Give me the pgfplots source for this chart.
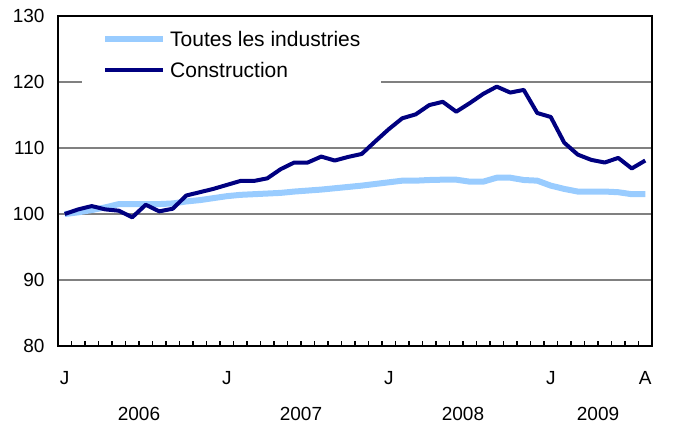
\documentclass[border=0pt]{standalone}
\usepackage{pgfplots}
\pgfplotsset{compat=1.18}
\usepackage{fontspec}
\setmainfont{Liberation Sans}
\definecolor{navyline}{RGB}{0,0,128}
\definecolor{lightline}{RGB}{153,204,255}
\definecolor{gridgray}{RGB}{128,128,128}
\begin{document}
\begin{tikzpicture}[font=\fontsize{19}{22}\selectfont]
\begin{axis}[
  name=ax,
  scale only axis,
  clip mode=individual,
  width=594pt, height=330pt,
  xmin=-0.5, xmax=43.5, ymin=80, ymax=130,
  ytick={80,90,100,110,120,130},
  xtick={0,12,24,36,43},
  xticklabels={J,J,J,J,A},
  minor xtick={0.5,1.5,...,42.5},
  major tick length=0pt,
  minor tick length=5pt,
  tick align=inside,
  xtick pos=bottom, ytick pos=left,
  minor tick style={line width=1.5pt, black},
  ymajorgrids,
  major grid style={line width=2pt, gridgray},
  axis line style={line width=2.5pt, black},
  /pgf/number format/assume math mode=true,
  yticklabel style={anchor=east, xshift=-10pt},
  xticklabel style={anchor=center, yshift=-32pt},
  legend style={at={(0.0404,0.982)}, anchor=north west, draw=none, fill=white,
    inner xsep=20pt, inner ysep=8pt, row sep=12pt,
    font=\fontsize{21}{24}\selectfont,
    nodes={inner sep=1pt}},
  legend cell align=left,
  legend image code/.code={\draw[#1] (0pt,0pt) -- (58pt,0pt);},
  every axis legend/.append style={/tikz/every odd column/.append style={column sep=3pt}},
]
\addplot[lightline, line width=6pt, line join=round] coordinates {
(0,100.0) (1,100.25) (2,100.6) (3,101.0) (4,101.5) (5,101.5) (6,101.5) (7,101.5)
(8,101.6) (9,101.9) (10,102.1) (11,102.4) (12,102.7) (13,102.9) (14,103.0) (15,103.1)
(16,103.2) (17,103.4) (18,103.55) (19,103.7) (20,103.9) (21,104.1) (22,104.3) (23,104.55)
(24,104.8) (25,105.05) (26,105.05) (27,105.15) (28,105.2) (29,105.2) (30,104.9) (31,104.9)
(32,105.5) (33,105.5) (34,105.15) (35,105.05) (36,104.3) (37,103.8) (38,103.4) (39,103.4)
(40,103.4) (41,103.3) (42,103.0) (43,103.0)
};
\addlegendentry{Toutes les industries}
\addplot[navyline, line width=4pt, line join=round] coordinates {
(0,100.0) (1,100.7) (2,101.2) (3,100.7) (4,100.5) (5,99.5) (6,101.4) (7,100.4)
(8,100.8) (9,102.8) (10,103.3) (11,103.8) (12,104.4) (13,105.0) (14,105.0) (15,105.4)
(16,106.8) (17,107.8) (18,107.8) (19,108.7) (20,108.1) (21,108.65) (22,109.1) (23,111.0)
(24,112.85) (25,114.5) (26,115.1) (27,116.5) (28,117.0) (29,115.5) (30,116.8) (31,118.2)
(32,119.3) (33,118.4) (34,118.8) (35,115.3) (36,114.7) (37,110.8) (38,109.0) (39,108.2)
(40,107.8) (41,108.5) (42,106.9) (43,108.1)
};
\addlegendentry{Construction}
\node[anchor=center, yshift=-68pt] at (axis cs:5.5,80) {2006};
\node[anchor=center, yshift=-68pt] at (axis cs:17.5,80) {2007};
\node[anchor=center, yshift=-68pt] at (axis cs:29.5,80) {2008};
\node[anchor=center, yshift=-68pt] at (axis cs:39.5,80) {2009};
\end{axis}
\path (ax.south west) ++(-58pt,-89pt) rectangle ++(676pt,435pt);
\end{tikzpicture}
\end{document}
